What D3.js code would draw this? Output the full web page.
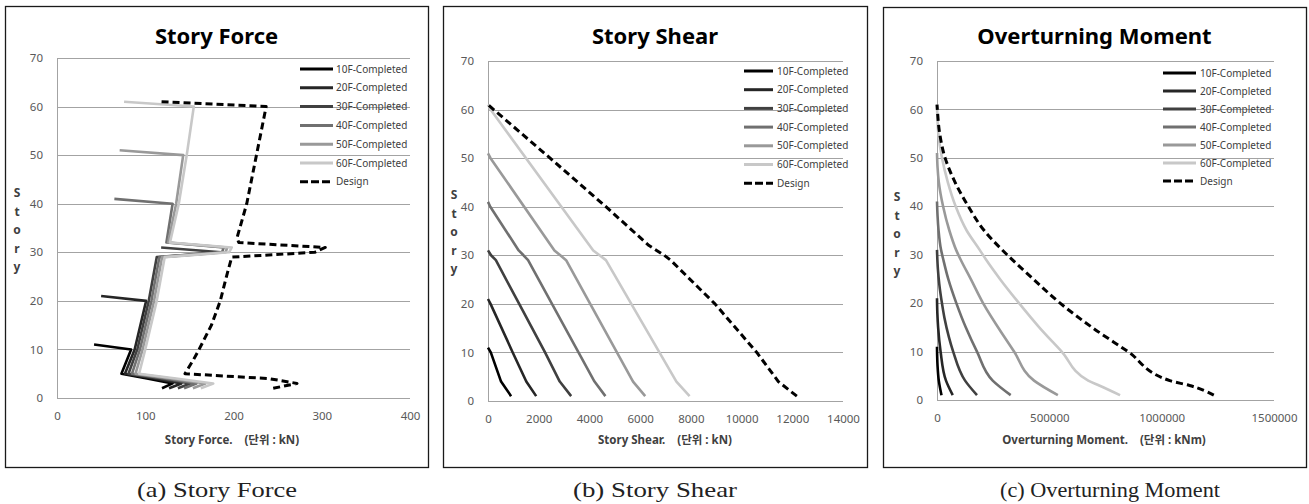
<!DOCTYPE html>
<html>
<head>
<meta charset="utf-8">
<script src="https://cdn.jsdelivr.net/npm/d3@7"></script>
<style>
  html, body { margin: 0; padding: 0; background: #fff; }
  svg { display: block; }
  text { white-space: pre; }
</style>
</head>
<body>
<svg id="chart" width="1309" height="504"></svg>
<script>
// ---- shared axes / legend ----
const storyTicks = [0, 10, 20, 30, 40, 50, 60, 70];
const seriesNames = ["10F-Completed", "20F-Completed", "30F-Completed", "40F-Completed",
                     "50F-Completed", "60F-Completed", "Design"];

// ---- (a) Story Force, kN : [story, force] ----
const forceTicks = [0, 100, 200, 300, 400];
const force10F = [[2,119],[3,131],[4,102],[5,73],[10,84],[11,42]];
const force20F = [[2,127],[3,141],[4,110],[5,77],[10,88],[20,101],[21,50]];
const force30F = [[2,137],[3,151],[4,117],[5,81],[10,91],[20,104],[29,113],[30,186],[31,118]];
const force40F = [[2,144],[3,158],[4,122],[5,85],[10,94],[20,107],[29,116],[30,187],[31,189],[32,124],[40,131],[41,65]];
const force50F = [[2,154],[3,168],[4,129],[5,89],[10,97],[20,110],[29,119],[30,191],[31,193],[32,126],[40,135],[50,143],[51,71]];
const force60F = [[2,163],[3,177],[4,135],[5,93],[10,100],[20,113],[29,122],[30,195],[31,198],[32,128],[40,138],[50,147],[60,155],[61,76]];
const forceDesign = [[2,245],[3,272],[4,240],[5,145],[8,155],[10,161],[15,175],[20,185],[25,192],[29,198],
                     [30,292],[31,304],[32,206],[33,204],[40,215],[50,226],[60,237],[61,118]];

// ---- (b) Story Shear, kN : [story, shear] ----
const shearTicks = [0, 2000, 4000, 6000, 8000, 10000, 12000, 14000];
const shear10F = [[1,910],[4,515],[10,110],[11,0]];
const shear20F = [[1,1900],[4,1510],[10,975],[20,100],[21,0]];
const shear30F = [[1,3280],[4,2830],[10,2250],[20,1230],[29,310],[30,120],[31,0]];
const shear40F = [[1,4630],[4,4200],[29,1580],[30,1400],[31,1210],[40,90],[41,0]];
const shear50F = [[1,6200],[4,5720],[29,3080],[30,2850],[31,2620],[50,100],[51,0]];
const shear60F = [[1,7950],[4,7430],[29,4650],[30,4400],[31,4150],[60,100],[61,0]];
const shearDesign = [[1,12180],[4,11450],[10,10600],[20,8950],[29,7200],[30,6950],[31,6650],[32,6350],
                     [40,4650],[50,2450],[61,0]];

// ---- (c) Overturning Moment, kNm : [story, moment] ----
const momentTicks = [0, 500000, 1000000, 1500000];
const moment10F = [[1,20000],[4,8000],[7,2500],[9,800],[11,0]];
const moment20F = [[1,70000],[4,40000],[10,16000],[15,5000],[18,1500],[21,0]];
const moment30F = [[1,178000],[4,125000],[10,72000],[13,53000],[17,33000],[20,22000],[24,10000],[27,4000],[31,0]];
const moment40F = [[1,328000],[4,248000],[10,178000],[15,128000],[20,86000],[25,50000],[29,28000],[31,18000],
                   [35,7000],[38,2500],[41,0]];
const moment50F = [[1,538000],[4,432000],[10,343000],[13,300000],[20,205000],[25,150000],[29,105000],[31,85000],
                   [35,55000],[40,27000],[45,8000],[48,2500],[51,0]];
const moment60F = [[1,815000],[3,722000],[4,673000],[10,555000],[15,455000],[20,365000],[25,280000],[29,218000],
                   [31,190000],[35,132000],[40,83000],[45,48000],[50,22000],[55,6000],[61,0]];
const momentDesign = [[1,1232000],[3,1124000],[4,1036000],[10,850000],[15,690000],[20,548000],[25,428000],
                      [30,312000],[31,290000],[35,210000],[40,139000],[45,80000],[50,36000],[55,12000],[60,1500],[61,0]];

// ---- drawing ----
const seriesColors = ["#000000", "#262626", "#404040", "#707070", "#999999", "#c8c8c8", "#000000"];
const svg = d3.select("#chart");
const sansFont = "'Noto Sans', 'Noto Sans CJK KR', sans-serif";

const panels = [
  { frame: [5, 6, 428, 467], plot: { l: 57, r: 410, t: 58, b: 398 },
    ticks: forceTicks, series: [force10F, force20F, force30F, force40F, force50F, force60F, forceDesign],
    title: "Story Force", xTitle: "Story Force.    (단위 : kN)", xTitleX: 232,
    legend: { x0: 300, x1: 333, tx: 336, y0: 69, dy: 18.8 },
    yTitleX: 17, yTitleY: 193, caption: "(a) Story Force", capX: 217, capW: 160 },
  { frame: [443, 6, 867, 467], plot: { l: 488, r: 843, t: 61, b: 401 },
    ticks: shearTicks, series: [shear10F, shear20F, shear30F, shear40F, shear50F, shear60F, shearDesign],
    title: "Story Shear", xTitle: "Story Shear.    (단위 : kN)", xTitleX: 665,
    legend: { x0: 744, x1: 773, tx: 777, y0: 71, dy: 18.7 },
    yTitleX: 454, yTitleY: 195, caption: "(b) Story Shear", capX: 655, capW: 164 },
  { frame: [883, 7, 1306, 467], plot: { l: 937, r: 1274, t: 61, b: 400 },
    ticks: momentTicks, series: [moment10F, moment20F, moment30F, moment40F, moment50F, moment60F, momentDesign],
    title: "Overturning Moment", xTitle: "Overturning Moment.    (단위 : kNm)", xTitleX: 1104,
    legend: { x0: 1163, x1: 1196, tx: 1200, y0: 73, dy: 18 },
    yTitleX: 897, yTitleY: 197, caption: "(c) Overturning Moment", capX: 1110, capW: 220, smooth: true }
];

panels.forEach(p => {
  const [fx0, fy0, fx1, fy1] = p.frame;
  const g = svg.append("g");

  g.append("rect").attr("x", fx0 + 0.5).attr("y", fy0 + 0.5)
    .attr("width", fx1 - fx0).attr("height", fy1 - fy0)
    .attr("fill", "#fff").attr("stroke", "#1a1a1a").attr("stroke-width", 1.3);

  const x = d3.scaleLinear().domain([p.ticks[0], p.ticks[p.ticks.length - 1]]).range([p.plot.l, p.plot.r]);
  const y = d3.scaleLinear().domain([0, 70]).range([p.plot.b, p.plot.t]);

  // horizontal gridlines
  g.append("g").attr("transform", `translate(${p.plot.l},0)`)
    .call(d3.axisLeft(y).tickValues(storyTicks).tickSize(-(p.plot.r - p.plot.l)).tickPadding(14).tickFormat(d3.format("d")))
    .call(a => a.select(".domain").remove())
    .call(a => a.selectAll(".tick line").attr("stroke", "#a3a3a3").attr("shape-rendering", "crispEdges"))
    .call(a => a.selectAll(".tick text").attr("fill", "#595959").attr("font-family", sansFont).attr("font-size", 11.5));

  // x axis labels (no tick marks)
  g.append("g").attr("transform", `translate(0,${p.plot.b})`)
    .call(d3.axisBottom(x).tickValues(p.ticks).tickSize(0).tickPadding(14).tickFormat(d3.format("d")))
    .call(a => a.select(".domain").remove())
    .call(a => a.selectAll(".tick text").attr("fill", "#595959").attr("font-family", sansFont).attr("font-size", 11.5));

  // left axis line
  g.append("line").attr("x1", p.plot.l).attr("x2", p.plot.l).attr("y1", p.plot.t).attr("y2", p.plot.b)
    .attr("stroke", "#a3a3a3").attr("shape-rendering", "crispEdges");

  // series lines
  const line = d3.line().x(d => x(d[1])).y(d => y(d[0]))
    .curve(p.smooth ? d3.curveMonotoneY : d3.curveLinear);
  p.series.forEach((s, i) => {
    const design = i === 6;
    g.append("path").datum(s).attr("d", line)
      .attr("fill", "none").attr("stroke", seriesColors[i])
      .attr("stroke-width", design ? 3 : 2.6)
      .attr("stroke-linejoin", "round")
      .attr("stroke-dasharray", design ? "7,4" : null);
  });

  // legend
  seriesNames.forEach((name, i) => {
    const ly = p.legend.y0 + i * p.legend.dy;
    const design = i === 6;
    g.append("line").attr("x1", p.legend.x0).attr("x2", p.legend.x1).attr("y1", ly).attr("y2", ly)
      .attr("stroke", seriesColors[i]).attr("stroke-width", 3)
      .attr("stroke-dasharray", design ? "8,3" : null);
    g.append("text").attr("x", p.legend.tx).attr("y", ly).attr("dy", "0.35em")
      .attr("font-family", sansFont).attr("font-size", 10).attr("fill", "#404040").text(name);
  });

  // title
  g.append("text").attr("x", (fx0 + fx1) / 2).attr("y", 44).attr("text-anchor", "middle")
    .attr("font-family", sansFont).attr("font-weight", "bold").attr("font-size", 22).attr("fill", "#000")
    .text(p.title);

  // x axis title
  g.append("text").attr("x", p.xTitleX).attr("y", 444).attr("text-anchor", "middle")
    .attr("font-family", sansFont).attr("font-weight", "bold").attr("font-size", 11.5).attr("fill", "#404040")
    .text(p.xTitle);

  // y axis title, one letter per line
  "Story".split("").forEach((ch, i) => {
    g.append("text").attr("x", p.yTitleX).attr("y", p.yTitleY + i * 18.5).attr("dy", "0.35em")
      .attr("text-anchor", "middle").attr("font-family", sansFont).attr("font-weight", "bold")
      .attr("font-size", 12).attr("fill", "#404040").text(ch);
  });

  // caption below the frame
  svg.append("text").attr("x", p.capX).attr("y", 497).attr("text-anchor", "middle")
    .attr("font-family", "'Liberation Serif', 'DejaVu Serif', serif").attr("font-size", 21).attr("fill", "#222")
    .attr("textLength", p.capW).attr("lengthAdjust", "spacingAndGlyphs")
    .text(p.caption);
});
</script>
</body>
</html>
